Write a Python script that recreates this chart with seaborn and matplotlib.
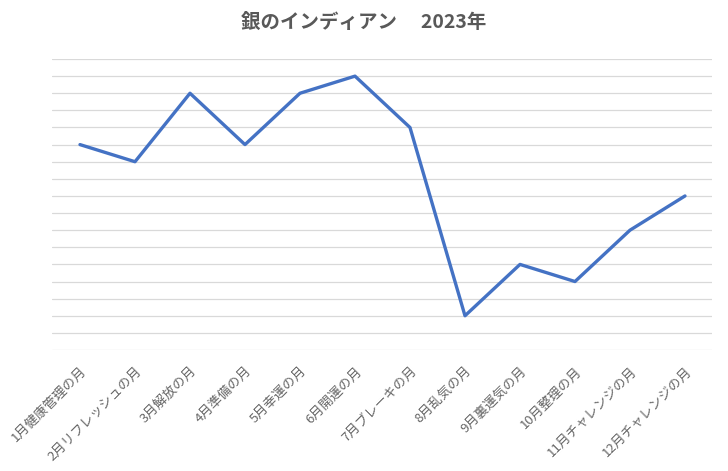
import pandas as pd
import numpy as np
import seaborn as sns
import matplotlib.pyplot as plt

# months (category labels) and values
months = ["1月健康管理の月", "2月リフレッシュの月", "3月解放の月", "4月準備の月",
          "5月幸運の月", "6月開運の月", "7月ブレーキの月", "8月乱気の月",
          "9月裏運気の月", "10月整理の月", "11月チャレンジの月", "12月チャレンジの月"]
values = [12, 11, 15, 12, 15, 16, 13, 2, 5, 4, 7, 9]
title = "銀のインディアン　 2023年"

sns.set_style("white")
plt.rcParams['font.family'] = ['Noto Sans CJK JP', 'DejaVu Sans']

df = pd.DataFrame({"month": months, "value": values})

fig = plt.figure(figsize=(7.28, 4.71), dpi=100)
ax = fig.add_axes([0.0721, 0.2569, 0.9066, 0.6178])

sns.lineplot(data=df, x="month", y="value", ax=ax, color="#4472C4",
             linewidth=2.4, sort=False)

ax.set_ylim(0, 17)
ax.set_xlim(-0.5, len(months) - 0.5)
ax.set_yticks(np.arange(0, 18, 1))
ax.yaxis.grid(True, color="#D9D9D9", linewidth=0.9)
ax.set_axisbelow(True)
ax.tick_params(axis="y", left=False, labelleft=False)
ax.tick_params(axis="x", bottom=False, pad=7)
for s in ax.spines.values():
    s.set_visible(False)

plt.xticks(rotation=45, ha="right", rotation_mode="anchor",
           fontsize=9.5, color="#666666")
ax.set_xlabel("")
ax.set_ylabel("")
fig.text(0.5, 0.953, title, ha="center", va="center", fontsize=14,
         fontweight="bold", color="#595959")

plt.savefig("out.png", dpi=100)
plt.close()
